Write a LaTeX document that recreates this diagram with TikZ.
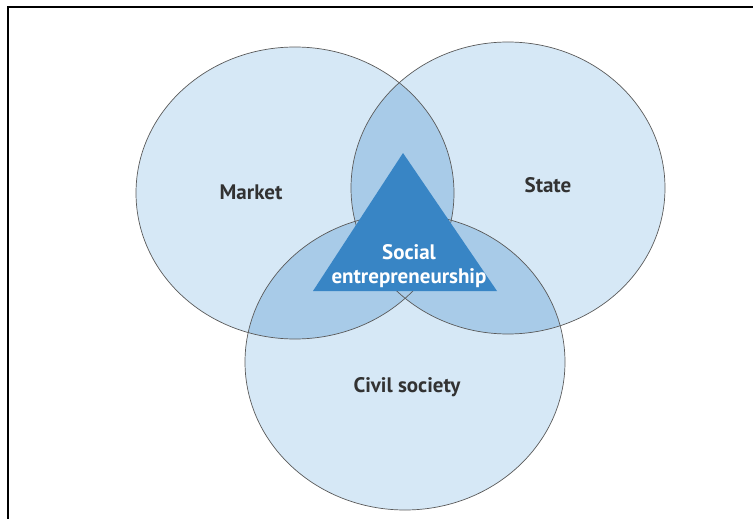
\documentclass[tikz,border=0pt]{standalone}
\usepackage{fontspec}
\setmainfont{PT Sans}
\usetikzlibrary{positioning}
\definecolor{circfill}{RGB}{214,232,246}
\definecolor{lensfill}{RGB}{168,203,232}
\definecolor{trifill}{RGB}{56,133,197}
\definecolor{rimgray}{RGB}{90,90,90}
\definecolor{labelgray}{RGB}{50,50,50}
\newcommand*{\MarketShape}{(295,193) ellipse [x radius=159, y radius=146]}
\newcommand*{\StateShape}{(508,188) ellipse [x radius=157, y radius=146]}
\newcommand*{\CivilShape}{(405,362) ellipse [x radius=160, y radius=148]}

\begin{document}
\begin{tikzpicture}[x=1pt, y=-1pt,
    lbl/.style={text=labelgray, font=\fontsize{21}{24}\selectfont\bfseries},
    rim/.style={draw=rimgray, line width=0.7pt}
    ]
\useasboundingbox (0,0) rectangle (753,519);

% Circles
\fill[circfill] \MarketShape;
\fill[circfill] \StateShape;
\fill[circfill] \CivilShape;

% Overlaps
\begin{scope}
    \clip \MarketShape;
    \fill[lensfill] \StateShape;
    \fill[lensfill] \CivilShape;
\end{scope}
\begin{scope}
    \clip \StateShape;
    \fill[lensfill] \CivilShape;
\end{scope}

% Rims
\path[rim] \MarketShape;
\path[rim] \StateShape;
\path[rim] \CivilShape;

% Triangle
\coordinate (apex) at (403,153);
\coordinate (baseleft) at (313,291);
\coordinate (baseright) at (497,291);
\fill[trifill] (apex) -- (baseleft) -- (baseright) -- cycle;

\node[text=white,
    align=center,
    font=\fontsize{21}{24}\selectfont\bfseries
    ] (social) at (409,266) {Social\\entrepreneurship};

% Labels
\node[lbl] (market) at (251,192) {Market};
\node[lbl] (state) at (548,185) {State};
\node[lbl] (civil) at (407,387) {Civil society};

% Frame
\draw[line width=2pt] (7.5,519) -- (7.5,7) -- (753,7);

\end{tikzpicture}
\end{document}
